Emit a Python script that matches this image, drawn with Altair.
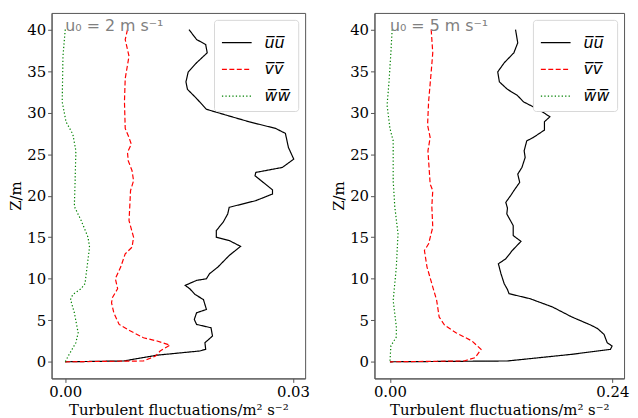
import altair as alt
import pandas as pd

# ---- data ----
# left panel (u0 = 2 m/s)
L_uu_z = [40, 38.8, 38.2, 37.2, 36.0, 34.9, 33.7, 32.8, 31.7, 30.4, 29.7, 28.9, 28.1, 27.5, 25.8, 24.4, 23.4, 22.8, 22.4, 20.7, 20.2, 19.4, 18.6, 17.8, 16.8, 15.8, 15.0, 14.6, 13.9, 12.8, 11.4, 10.6, 10.0, 9.8, 9.2, 8.8, 8.1, 7.5, 6.3, 5.9, 5.1, 4.5, 4.1, 3.1, 2.3, 1.5, 1.3, 0.8, 0.1, 0]
L_uu_v = [.0163, .0173, .0185, .0187, .0173, .0162, .0159, .0161, .0173, .0186, .0212, .0242, .0277, .0290, .0294, .0301, .0286, .0251, .0250, .0273, .0273, .0251, .0216, .0214, .0208, .0199, .0199, .0216, .0231, .0216, .0201, .0190, .0186, .0173, .0158, .0164, .0171, .0182, .0186, .0173, .0170, .0173, .0192, .0194, .0184, .0185, .0177, .0121, .0077, 0]
L_vv_z = [40, 38.8, 36.8, 34.1, 31.3, 28.1, 27.0, 26.2, 25.2, 24.2, 23.0, 21.8, 20.6, 18.7, 17.0, 15.0, 13.8, 13.0, 11.4, 10.0, 8.8, 7.7, 7.1, 5.9, 4.5, 3.7, 2.9, 2.5, 2.0, 1.3, 0.7, 0.1, 0]
L_vv_v = [.0082, .0079, .0084, .0079, .0078, .0079, .0084, .0087, .0082, .0083, .0088, .0090, .0086, .0085, .0084, .0090, .0088, .0079, .0073, .0066, .0069, .0062, .0061, .0064, .0071, .0086, .0103, .0121, .0138, .0125, .0119, .0103, 0]
L_ww_z = [40, 36.8, 31.3, 28.9, 27.4, 25.4, 21.8, 18.7, 17.0, 15.0, 13.8, 9.4, 8.8, 8.1, 7.5, 5.9, 3.5, 2.3, 0.7, 0]
L_ww_v = [0.0, -.0003, -.0004, .0001, .0010, .0014, .0013, .0012, .0021, .0030, .0032, .0026, .0021, .0010, .0007, .0012, .0017, .0014, .0004, 0]

# right panel (u0 = 5 m/s)
R_uu_z = [40, 38.4, 37.2, 36.0, 34.9, 33.7, 32.8, 32.1, 31.3, 30.3, 29.5, 28.9, 27.9, 27.0, 26.6, 25.4, 24.6, 23.4, 22.6, 21.6, 20.6, 20.0, 19.2, 18.5, 17.8, 16.4, 15.2, 14.5, 13.4, 12.4, 11.8, 10.6, 9.4, 8.7, 8.2, 7.6, 6.6, 5.4, 4.4, 4.0, 3.3, 2.3, 1.9, 1.5, 0.9, 0.1, 0]
R_uu_v = [.1355, .1379, .1337, .1233, .1163, .1181, .1268, .1372, .1441, .1615, .1726, .1667, .1667, .1546, .1476, .1448, .1459, .1424, .1379, .1400, .1337, .1302, .1250, .1268, .1261, .1330, .1330, .1414, .1320, .1250, .1170, .1198, .1233, .1268, .1285, .1511, .1754, .1962, .2171, .2240, .2310, .2344, .2397, .2379, .1962, .1268, 0]
R_vv_z = [40, 37.2, 34.9, 31.3, 28.5, 27.0, 25.4, 21.4, 20.6, 18.7, 16.2, 14.2, 13.4, 11.4, 9.4, 7.4, 5.4, 4.4, 3.5, 2.5, 1.5, 0.5, 0.1, 0]
R_vv_v = [.0445, .0462, .0445, .0417, .0406, .0434, .0410, .0434, .0462, .0452, .0462, .0417, .0372, .0400, .0452, .0504, .0531, .0590, .0712, .0886, .0983, .0920, .0799, 0]
R_ww_z = [40, 37.2, 33.7, 30.9, 28.1, 26.6, 21.8, 18.7, 15.4, 11.4, 7.4, 4.2, 3.0, 1.9, 0]
R_ww_v = [.0024, .0010, -.0010, -.0031, 0.0, .0035, .0035, .0052, .0087, .0069, .0035, .0069, .0069, .0010, 0]

series_names = ["u\u0305u\u0305", "v\u0305v\u0305", "w\u0305w\u0305"]
annot_left = "u\u2080 = 2 m s\u207b\u00b9"
annot_right = "u\u2080 = 5 m s\u207b\u00b9"
xticks_left = [0.0, 0.03]
xticks_right = [0.0, 0.24]
yticks = [0, 5, 10, 15, 20, 25, 30, 35, 40]


def make_df(zs, vs):
    rows = []
    for name, z, v in zip(series_names, zs, vs):
        for i, (zz, vv) in enumerate(zip(z, v)):
            rows.append({"series": name, "z": zz, "v": vv, "i": i})
    return pd.DataFrame(rows)


dfL = make_df([L_uu_z, L_vv_z, L_ww_z], [L_uu_v, L_vv_v, L_ww_v])
dfR = make_df([R_uu_z, R_vv_z, R_ww_z], [R_uu_v, R_vv_v, R_ww_v])

SERIF = "DejaVu Serif"
SANS = "DejaVu Sans"


def panel(df, xdom, xticks, annot, w):
    x = alt.X("v:Q", scale=alt.Scale(domain=xdom, nice=False, zero=False),
              axis=alt.Axis(values=xticks, format=".2f", grid=False,
                            title="Turbulent fluctuations/m\u00b2 s\u207b\u00b2",
                            labelFlush=False))
    y = alt.Y("z:Q", scale=alt.Scale(domain=[-2, 42], nice=False),
              axis=alt.Axis(values=yticks, grid=False, title="Z/m"))
    lines = alt.Chart(df).mark_line(strokeWidth=1.2).encode(
        x=x, y=y,
        order="i:Q",
        color=alt.Color("series:N",
                        scale=alt.Scale(domain=series_names, range=["black", "red", "green"]),
                        legend=alt.Legend(title=None, orient="top-right", symbolType="stroke",
                                          symbolSize=900, symbolStrokeWidth=1.2,
                                          labelFont=SANS, labelFontSize=16, labelFontStyle="italic",
                                          labelOffset=12, rowPadding=3,
                                          fillColor="white", strokeColor="#d8d8d8",
                                          cornerRadius=3, padding=7, offset=7)),
        strokeDash=alt.StrokeDash("series:N",
                                  scale=alt.Scale(domain=series_names,
                                                  range=[[1, 0], [5, 2.5], [1.3, 2.2]]),
                                  legend=None),
    )
    text = alt.Chart(pd.DataFrame({"v": [0.0], "z": [40.0], "t": [annot]})).mark_text(
        align="left", baseline="bottom", font=SANS, fontSize=16, color="gray", dy=4
    ).encode(x="v:Q", y="z:Q", text="t:N")
    return alt.layer(lines, text).properties(width=w, height=369)


chart = alt.hconcat(
    panel(dfL, [-0.0018, 0.0316], xticks_left, annot_left, 256),
    panel(dfR, [-0.0167, 0.2526], xticks_right, annot_right, 252),
    spacing=21,
).resolve_scale(color="independent", strokeDash="independent").configure_axis(
    labelFont=SERIF, labelFontSize=15, labelColor="black",
    titleFont=SERIF, titleFontSize=15, titleFontWeight="normal", titleColor="black",
    domainColor="#555", tickColor="#555", tickSize=4, labelPadding=2, titlePadding=3,
).configure_view(stroke="#555", strokeWidth=1).properties(
    padding={"left": 0, "top": 2, "right": 0, "bottom": 0}
)

chart.save("out.html", embed_options={"renderer": "svg", "actions": False})
